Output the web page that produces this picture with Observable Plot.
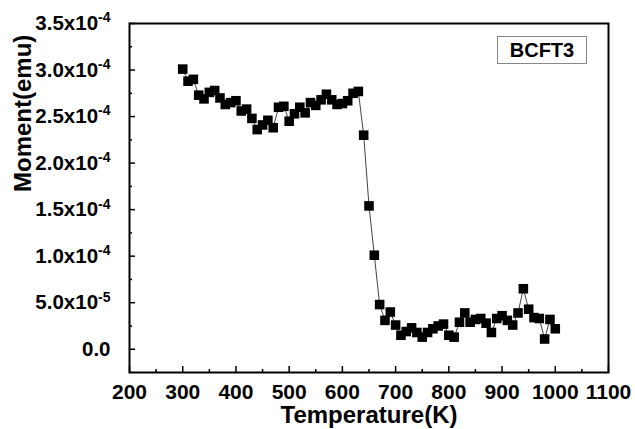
<!DOCTYPE html>
<html><head><meta charset="utf-8">
<script src="https://cdn.jsdelivr.net/npm/d3@7"></script>
<script src="https://cdn.jsdelivr.net/npm/@observablehq/plot@0.6"></script>
<style>
body{margin:0;background:#fff}
#wrap{position:relative;width:635px;height:429px;font-family:"Liberation Sans",Arial,sans-serif}
#legend{position:absolute;z-index:1;left:497px;top:36px;width:90px;height:28px;border:1px solid #888;box-sizing:border-box;font-weight:bold;font-size:20px;display:flex;align-items:center;justify-content:center;background:#fff;color:#000}
</style></head><body><div id="wrap"><div id="legend">BCFT3</div></div>
<script>
const temperature = [300,310,320,330,340,350,360,370,380,390,400,410,420,430,440,450,460,470,480,490,500,
  510,520,530,540,550,560,570,580,590,600,610,620,630,640,650,660,670,680,690,700,
  710,720,730,740,750,760,770,780,790,800,810,820,830,840,850,860,870,880,890,900,
  910,920,930,940,950,960,970,980,990,1000];
const moment = [3.01e-4,2.88e-4,2.90e-4,2.73e-4,2.69e-4,2.76e-4,2.78e-4,2.70e-4,2.63e-4,2.65e-4,2.67e-4,
  2.56e-4,2.58e-4,2.48e-4,2.36e-4,2.41e-4,2.46e-4,2.38e-4,2.60e-4,2.61e-4,2.45e-4,
  2.53e-4,2.60e-4,2.54e-4,2.65e-4,2.62e-4,2.68e-4,2.74e-4,2.68e-4,2.63e-4,2.64e-4,
  2.67e-4,2.75e-4,2.77e-4,2.30e-4,1.54e-4,1.01e-4,4.8e-5,3.1e-5,4.0e-5,2.6e-5,
  1.5e-5,1.9e-5,2.3e-5,1.8e-5,1.3e-5,1.8e-5,2.2e-5,2.5e-5,2.7e-5,1.5e-5,
  1.3e-5,2.9e-5,3.9e-5,2.9e-5,3.2e-5,3.3e-5,2.8e-5,1.8e-5,3.3e-5,3.6e-5,
  3.1e-5,2.6e-5,3.9e-5,6.5e-5,4.3e-5,3.4e-5,3.3e-5,1.1e-5,3.2e-5,2.2e-5];
const xTicks = [200,300,400,500,600,700,800,900,1000,1100];
const xTickLabels = ["200","300","400","500","600","700","800","900","1000","1100"];
const xMinorTicks = [250,350,450,550,650,750,850,950,1050];
const yTicks = [0,5e-5,1e-4,1.5e-4,2e-4,2.5e-4,3e-4,3.5e-4];
const yTickLabels = ["0.0","5.0x10^-5","1.0x10^-4","1.5x10^-4","2.0x10^-4","2.5x10^-4","3.0x10^-4","3.5x10^-4"];
const yMinorTicks = [2.5e-5,7.5e-5,1.25e-4,1.75e-4,2.25e-4,2.75e-4,3.25e-4];
const xTitle = "Temperature(K)";
const yTitle = "Moment(emu)";

const data = temperature.map((t, i) => ({t, m: moment[i]}));
const xMap = new Map(xTicks.map((d, i) => [d, xTickLabels[i]]));
const yMap = new Map(yTicks.map((d, i) => [d, yTickLabels[i]]));

const chart = Plot.plot({
  width: 635, height: 429,
  marginLeft: 129, marginRight: 27, marginTop: 23, marginBottom: 57,
  style: {fontFamily: '"Liberation Sans", Arial, sans-serif', fontWeight: "bold", background: "#fff", color: "#000"},
  x: {domain: [200, 1100]},
  y: {domain: [-2.5e-5, 3.5e-4]},
  marks: [
    Plot.axisX(xTicks, {anchor: "bottom", tickSize: 0, tickPadding: 12, tickFormat: d => xMap.get(d), fontSize: 21, label: null}),
    Plot.axisX(xTicks, {anchor: "bottom", tickSize: 6, dy: -6, tickFormat: () => "", label: null, strokeWidth: 1.5}),
    Plot.axisX(xMinorTicks, {anchor: "bottom", tickSize: 3, dy: -3, tickFormat: () => "", label: null, strokeWidth: 1.5}),
    Plot.axisY(yTicks, {anchor: "left", tickSize: 0, tickPadding: 19, tickFormat: d => yMap.get(d), fontSize: 20.5, label: null}),
    Plot.axisY(yTicks, {anchor: "left", tickSize: 6, dx: 6, tickFormat: () => "", label: null, strokeWidth: 1.5}),
    Plot.axisY(yMinorTicks, {anchor: "left", tickSize: 3, dx: 3, tickFormat: () => "", label: null, strokeWidth: 1.5}),
    Plot.line(data, {x: "t", y: "m", stroke: "#444", strokeWidth: 1}),
    Plot.dot(data, {x: "t", y: "m", symbol: "square", r: 5.4, fill: "#000", stroke: "none"}),
    Plot.frame({stroke: "#000", strokeWidth: 2}),
    Plot.text([xTitle], {text: d => d, frameAnchor: "bottom", lineAnchor: "middle", dy: 43, fontSize: 24, fontWeight: "bold", fill: "#000"}),
    Plot.text([yTitle], {text: d => d, frameAnchor: "left", rotate: -90, dx: -106, dy: -6, fontSize: 24, fontWeight: "bold", fill: "#000"})
  ]
});

chart.querySelectorAll("text").forEach(el => {
  const s = el.textContent;
  if (s.includes("^")) {
    const [base, sup] = s.split("^");
    el.textContent = "";
    const t1 = document.createElementNS("http://www.w3.org/2000/svg", "tspan");
    t1.textContent = base;
    const t2 = document.createElementNS("http://www.w3.org/2000/svg", "tspan");
    t2.textContent = sup;
    t2.setAttribute("font-size", "14");
    t2.setAttribute("dy", "-0.55em");
    el.appendChild(t1);
    el.appendChild(t2);
  }
});

document.getElementById("wrap").appendChild(chart);
</script>
</body></html>
